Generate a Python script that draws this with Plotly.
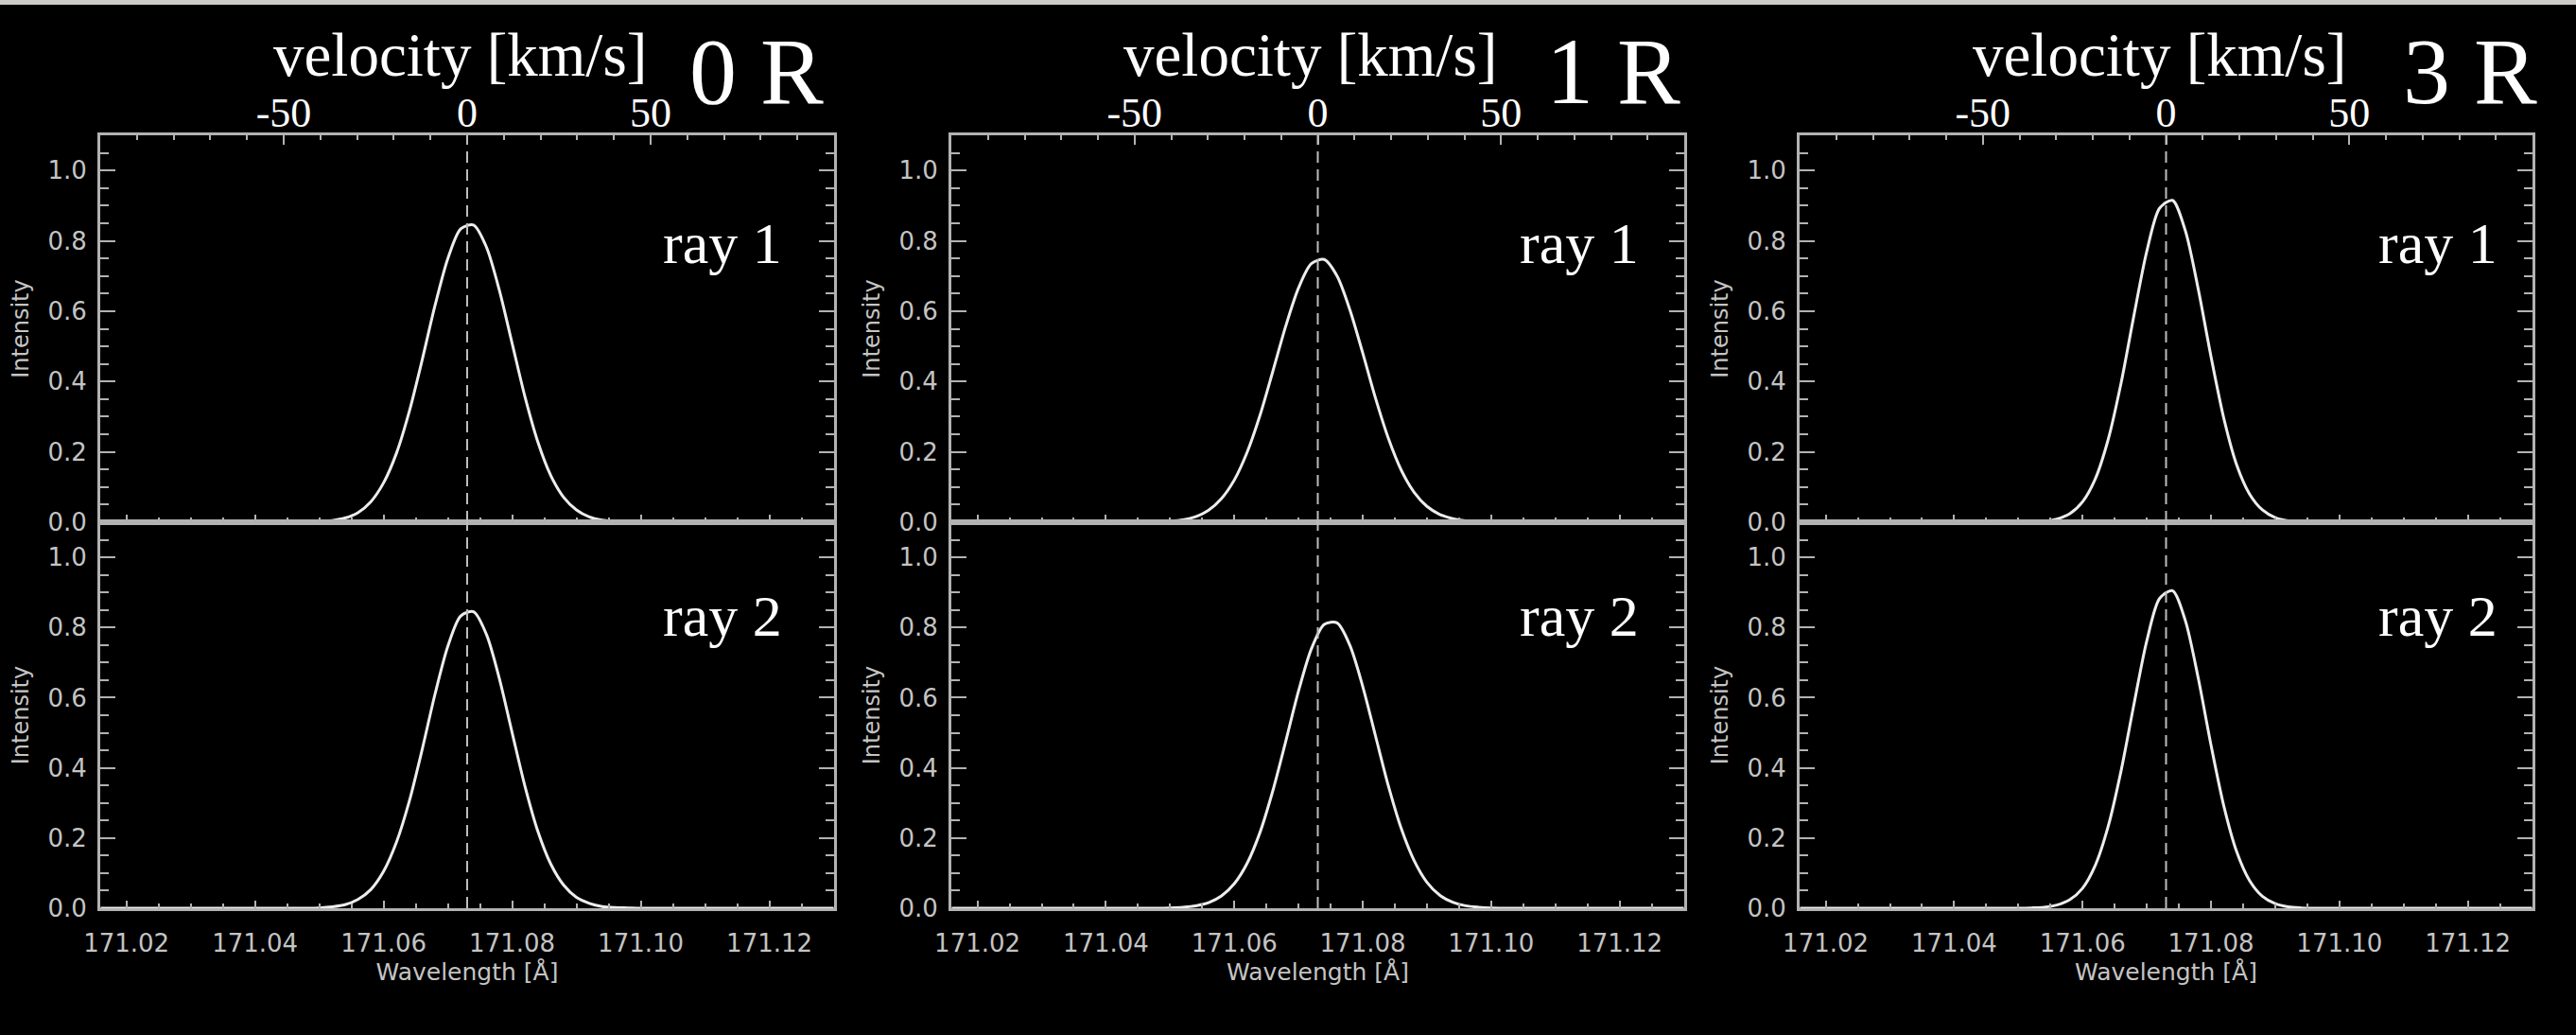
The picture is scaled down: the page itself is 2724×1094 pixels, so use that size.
import plotly.graph_objects as go

# ---------------- data ----------------
rest_wavelength = 171.073          # Angstrom, dashed reference line
velocity_range = [-100, 100]       # km/s, top axis
velocity_ticks = [-50, 0, 50]
velocity_tick_text = ["-50", "0", "50"]
speed_of_light = 299792.458        # km/s

panel_labels = ["0 R", "1 R", "3 R"]
ray_labels = ["ray 1", "ray 2"]

wavelength = [171.016,
              171.046, 171.048, 171.050, 171.052, 171.054, 171.056, 171.058,
              171.060, 171.062, 171.064, 171.066, 171.068, 171.070, 171.072,
              171.074, 171.076, 171.078, 171.080, 171.082, 171.084, 171.086,
              171.088, 171.090, 171.092, 171.094, 171.096, 171.098, 171.100,
              171.130]

ray1_0R = [0.0, 0.000, 0.001, 0.002, 0.005, 0.012, 0.027, 0.058, 0.112, 0.196, 0.315,
           0.461, 0.616, 0.750, 0.834, 0.845, 0.782, 0.660, 0.508, 0.356, 0.228,
           0.133, 0.071, 0.035, 0.015, 0.006, 0.002, 0.001, 0.000, 0.0]
ray2_0R = [0.0, 0.000, 0.000, 0.001, 0.004, 0.010, 0.025, 0.053, 0.105, 0.188, 0.305,
           0.452, 0.610, 0.747, 0.833, 0.845, 0.780, 0.655, 0.500, 0.347, 0.219,
           0.126, 0.066, 0.031, 0.014, 0.005, 0.002, 0.001, 0.000, 0.0]
ray1_1R = [0.0, 0.000, 0.001, 0.003, 0.007, 0.016, 0.034, 0.067, 0.120, 0.199, 0.304,
           0.429, 0.557, 0.666, 0.735, 0.747, 0.700, 0.604, 0.481, 0.352, 0.238,
           0.148, 0.085, 0.045, 0.022, 0.010, 0.004, 0.002, 0.001, 0.0]
ray2_1R = [0.0, 0.000, 0.000, 0.001, 0.003, 0.007, 0.016, 0.035, 0.070, 0.128, 0.216,
           0.335, 0.475, 0.619, 0.739, 0.809, 0.813, 0.749, 0.632, 0.490, 0.348,
           0.227, 0.136, 0.074, 0.037, 0.017, 0.007, 0.003, 0.001, 0.0]
ray1_3R = [0.0, 0.000, 0.000, 0.000, 0.001, 0.003, 0.009, 0.024, 0.058, 0.124, 0.236,
           0.396, 0.588, 0.770, 0.893, 0.915, 0.829, 0.664, 0.471, 0.295, 0.163,
           0.080, 0.035, 0.013, 0.004, 0.001, 0.000, 0.000, 0.000, 0.0]
ray2_3R = [0.0, 0.000, 0.000, 0.000, 0.001, 0.003, 0.009, 0.024, 0.057, 0.123, 0.234,
           0.392, 0.581, 0.762, 0.883, 0.905, 0.820, 0.657, 0.465, 0.291, 0.161,
           0.079, 0.034, 0.013, 0.004, 0.001, 0.000, 0.000, 0.000, 0.0]

profiles = [[ray1_0R, ray2_0R], [ray1_1R, ray2_1R], [ray1_3R, ray2_3R]]

# ---------------- layout constants (pixels) ----------------
W, H = 2724, 1094
panel_left = [106, 1006, 1903]
panel_right = [882, 1781, 2678]
row_top = [143, 552]
row_bottom = [552, 960]
label_center_x = [800, 1706, 2612]
ray_center_x = [764, 1670, 2578]
ray_center_y = [254, 648]

axis_color = "#b2b2b2"
tick_color_txt = "#c4c4c4"
curve_color = "#ededed"
serif = "Liberation Serif"
sans = "DejaVu Sans"


def fx(p):
    return p / W


def fy(p):
    return 1 - p / H


wl_range = [rest_wavelength * (1 + v / speed_of_light) for v in velocity_range]

fig = go.Figure()
layout = {}
shapes = []
annotations = []

for i in range(3):
    for r in range(2):
        n = i * 2 + r + 1
        sfx = "" if n == 1 else str(n)
        fig.add_trace(go.Scatter(
            x=wavelength, y=profiles[i][r], mode="lines",
            line=dict(color=curve_color, width=3, shape="spline", smoothing=0.8),
            xaxis="x" + sfx, yaxis="y" + sfx, showlegend=False, hoverinfo="skip"))

        xa = dict(
            domain=[fx(panel_left[i]), fx(panel_right[i])], anchor="y" + sfx,
            range=wl_range, showline=True, linecolor=axis_color, linewidth=3,
            ticks="inside", ticklen=8, tickwidth=2, tickcolor=axis_color,
            tick0=171.02, dtick=0.02, tickformat=".2f",
            minor=dict(tick0=171.02, dtick=0.005, ticks="inside", ticklen=5,
                       tickwidth=2, tickcolor=axis_color),
            showgrid=False, zeroline=False, automargin=False,
            tickfont=dict(family=sans, size=26, color=tick_color_txt),
            ticklabelstandoff=12)
        if r == 0:
            xa.update(showticklabels=False, mirror=False)
        else:
            xa.update(mirror=True,
                      title=dict(text="Wavelength [Å]", standoff=8,
                                 font=dict(family=sans, size=25, color=tick_color_txt)))
        layout["xaxis" + sfx] = xa

        ya = dict(
            domain=[fy(row_bottom[r]), fy(row_top[r])], anchor="x" + sfx,
            range=[0, 1.1], showline=True, linecolor=axis_color, linewidth=3,
            mirror="ticks", ticks="inside", ticklen=16, tickwidth=2,
            tickcolor=axis_color, tick0=0, dtick=0.2, tickformat=".1f",
            minor=dict(dtick=0.05, ticks="inside", ticklen=9, tickwidth=2,
                       tickcolor=axis_color),
            showgrid=False, zeroline=False, automargin=False,
            tickfont=dict(family=sans, size=26, color=tick_color_txt),
            ticklabelstandoff=6,
            title=dict(text="Intensity", standoff=14,
                       font=dict(family=sans, size=24, color=tick_color_txt)))
        layout["yaxis" + sfx] = ya

        shapes.append(dict(type="line", xref="x" + sfx, yref="y" + sfx + " domain",
                           x0=rest_wavelength, x1=rest_wavelength, y0=0, y1=1,
                           line=dict(color="#bdbdbd", width=2, dash="12px,7px"),
                           layer="above"))

        annotations.append(dict(text=ray_labels[r], xref="paper", yref="paper",
                                x=fx(ray_center_x[i]), y=fy(ray_center_y[r] + 3),
                                xanchor="center", yanchor="middle", showarrow=False,
                                font=dict(family=serif, size=62, color="white")))

    top = "" if i == 0 else str(i * 2 + 1)
    vax = str(7 + i)
    # empty trace so the velocity axis is attached to the top subplot
    fig.add_trace(go.Scatter(x=velocity_range, y=[None, None], mode="lines",
                             xaxis="x" + vax, yaxis="y" + top,
                             showlegend=False, hoverinfo="skip"))
    layout["xaxis" + vax] = dict(
        overlaying="x" + top, anchor="y" + top, side="top", range=velocity_range,
        showline=True, linecolor=axis_color, linewidth=3,
        ticks="inside", ticklen=10, tickwidth=2, tickcolor=axis_color,
        tickmode="array", tickvals=velocity_ticks, ticktext=velocity_tick_text,
        minor=dict(tick0=0, dtick=10, ticks="inside", ticklen=5, tickwidth=2,
                   tickcolor=axis_color),
        showgrid=False, zeroline=False, automargin=False, ticklabelstandoff=-12,
        tickfont=dict(family=serif, size=44, color="white"))

    annotations.append(dict(text="velocity [km/s]", xref="paper", yref="paper",
                            x=fx(panel_left[i] + 380), y=fy(58),
                            xanchor="center", yanchor="middle", showarrow=False,
                            font=dict(family=serif, size=65, color="white")))
    annotations.append(dict(text=panel_labels[i], xref="paper", yref="paper",
                            x=fx(label_center_x[i]), y=fy(76),
                            xanchor="center", yanchor="middle", showarrow=False,
                            font=dict(family=serif, size=100, color="white")))

shapes.append(dict(type="rect", xref="paper", yref="paper", x0=0, x1=1,
                   y0=fy(5), y1=1, fillcolor="#cdcbc8", line=dict(width=0),
                   layer="above"))

fig.update_layout(
    width=W, height=H, margin=dict(l=0, r=0, t=0, b=0),
    paper_bgcolor="black", plot_bgcolor="black",
    font=dict(family=sans, color=tick_color_txt),
    shapes=shapes, annotations=annotations, showlegend=False,
    **layout)

fig.write_html("out.html")
